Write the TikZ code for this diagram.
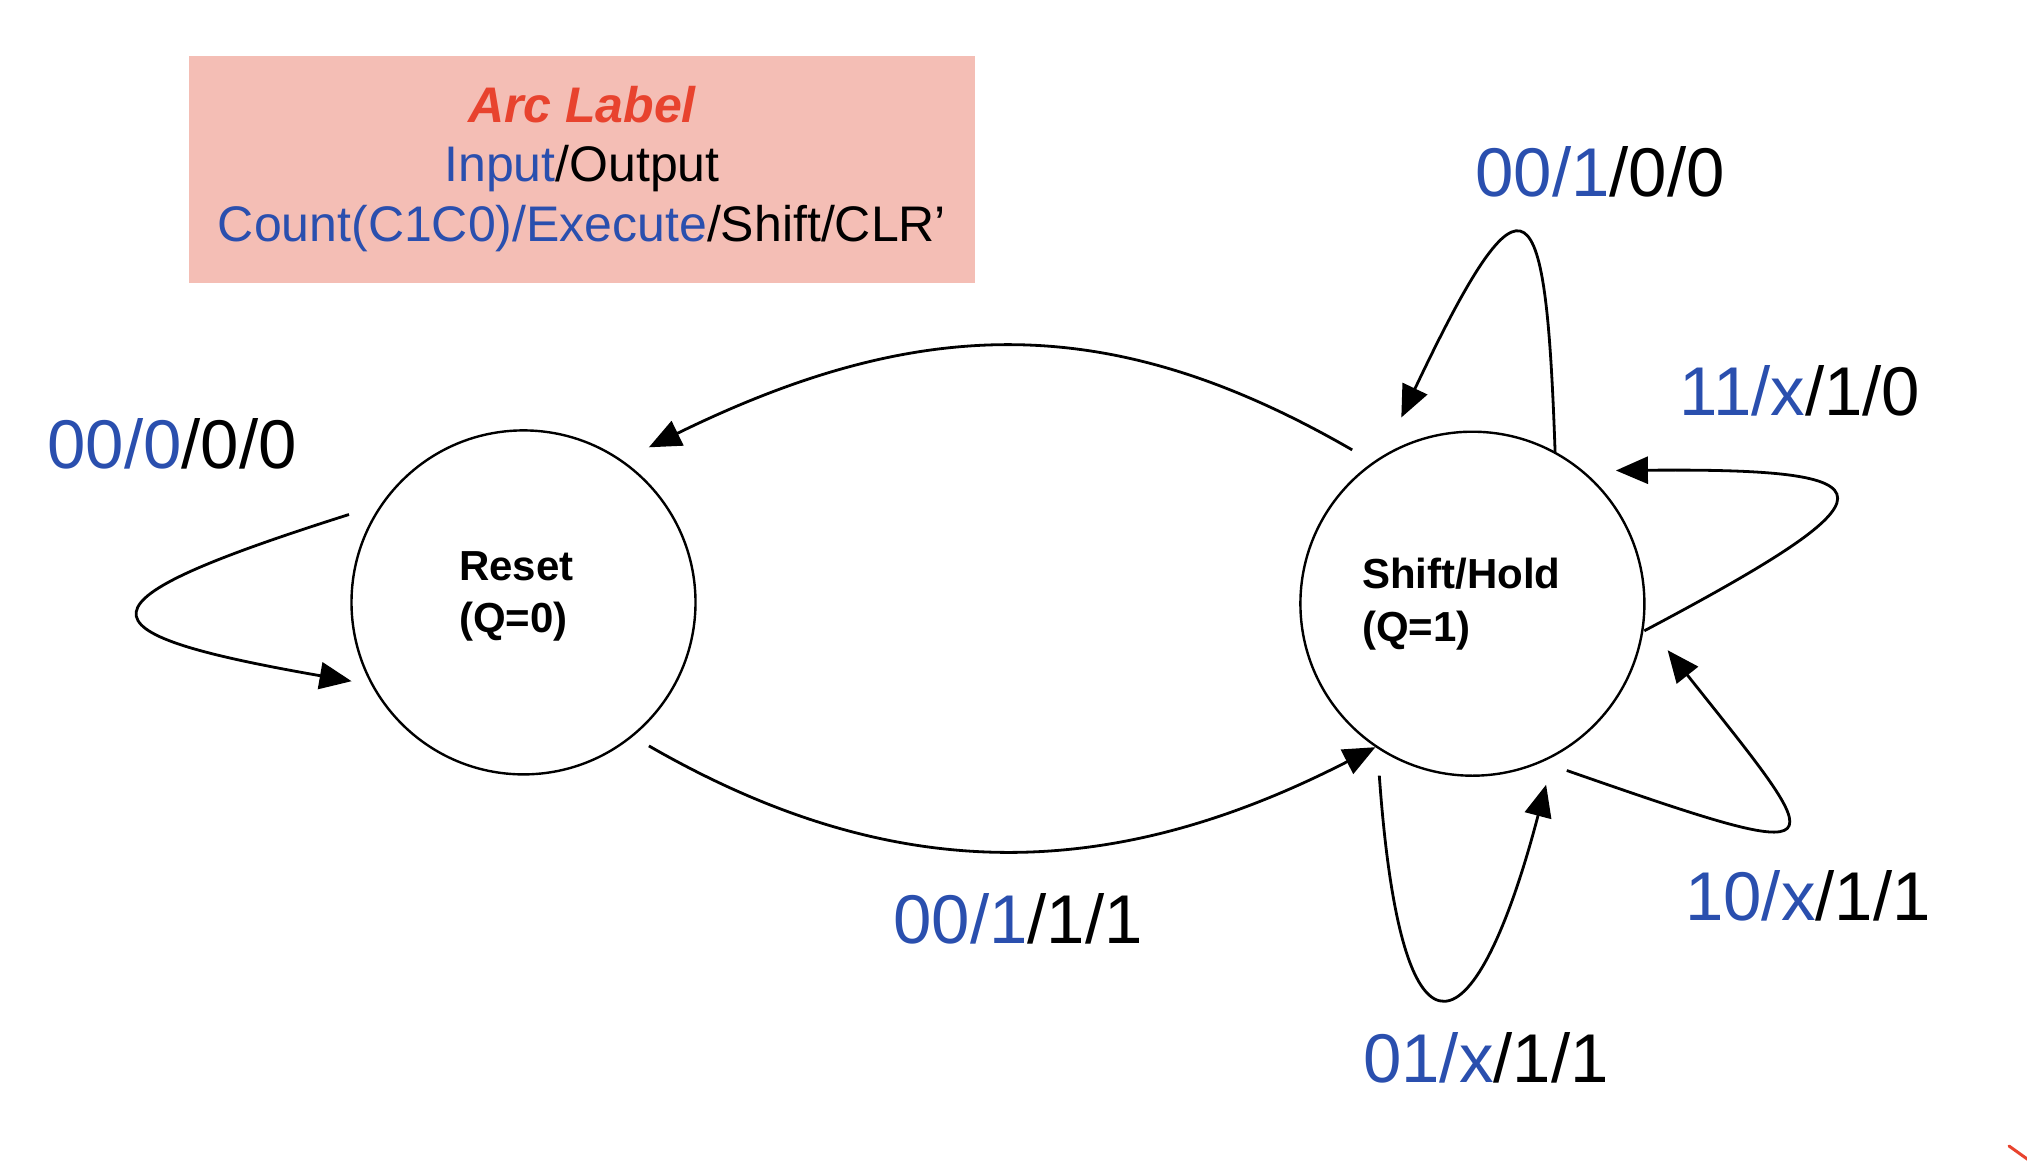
\documentclass[tikz,border=0pt]{standalone}
\usepackage{fontspec}
\setmainfont{Liberation Sans}
\usetikzlibrary{arrows.meta}
\definecolor{inblue}{HTML}{2A4FAE}
\definecolor{boxpink}{HTML}{F4BEB5}
\definecolor{arcred}{HTML}{E8432E}
\tikzset{
  state/.style={circle, draw, line width=2.4pt, minimum size=344pt, inner sep=0pt},
  arc/.style={line width=2.8pt, -{Triangle[length=32pt,width=27pt]}},
  lbl/.style={anchor=base, inner sep=0pt, font=\fontsize{69}{80}\selectfont},
  stxt/.style={anchor=base west, inner sep=0pt, font=\bfseries\fontsize{42}{50}\selectfont},
  boxtxt/.style={anchor=base, inner sep=0pt, font=\fontsize{50}{60}\selectfont},
}
\begin{document}
\begin{tikzpicture}[x=1pt,y=-1pt]
\useasboundingbox (0,0) rectangle (2027,1161);
% legend box
\node[fill=boxpink, minimum width=786pt, minimum height=227pt, inner sep=0pt] (box) at (582,169.5) {};
\node[boxtxt, text=arcred, font=\bfseries\itshape\fontsize{50}{60}\selectfont] (t1) at (582,123) {Arc Label};
\node[boxtxt] (t2) at (582,182) {\textcolor{inblue}{Input}/Output};
\node[boxtxt] (t3) at (582,242) {\textcolor{inblue}{Count(C1C0)/Execute}/Shift/CLR’};
% states
\node[state] (R) at (523.5,602.4) {};
\node[state] (S) at (1472.4,603.7) {};
\node[stxt] (rt1) at (459,580) {Reset};
\node[stxt] (rt2) at (459,632) {(Q=0)};
\node[stxt] (st1) at (1362,588) {Shift/Hold};
\node[stxt] (st2) at (1362,641) {(Q=1)};
% transitions
\draw[arc] ([shift={(-120.2,-153.8)}]S.center) .. controls (1114.3,312.4) and (924.3,312.4) .. ([shift={(125.4,-155.1)}]R.center);
\draw[arc] ([shift={(125.4,143.5)}]R.center) .. controls (890.7,885.2) and (1106.6,885.2) .. ([shift={(-97,143.5)}]S.center);
\draw[arc] ([shift={(-174.5,-87.9)}]R.center) .. controls (70,603) and (70,632) .. ([shift={(-171.9,78.8)}]R.center);
\draw[arc] ([shift={(82.7,-151.3)}]S.center) .. controls (1546,190) and (1528,150) .. ([shift={(-71.1,-186.2)}]S.center);
\draw[arc] ([shift={(171.9,27.1)}]S.center) .. controls (1902.9,493.8) and (1900.3,468) .. ([shift={(143.5,-133.2)}]S.center);
\draw[arc] ([shift={(94.4,166.8)}]S.center) .. controls (1848.6,868.7) and (1833.1,858.4) .. ([shift={(195.2,46.5)}]S.center);
\draw[arc] ([shift={(-93.1,171.9)}]S.center) .. controls (1402,1095) and (1478,1045) .. ([shift={(73.7,181)}]S.center);
% labels
\node[lbl] (l1) at (172,468) {\textcolor{inblue}{00/0}/0/0};
\node[lbl] (l2) at (1600,197) {\textcolor{inblue}{00/1}/0/0};
\node[lbl] (l3) at (1800,415) {\textcolor{inblue}{11/x}/1/0};
\node[lbl] (l4) at (1808,920) {\textcolor{inblue}{10/x}/1/1};
\node[lbl] (l5) at (1486,1082) {\textcolor{inblue}{01/x}/1/1};
\node[lbl] (l6) at (1018,943) {\textcolor{inblue}{00/1}/1/1};
% corner mark
\draw[arcred, line width=3pt, line cap=round] (2009,1146) -- (2030,1161);
\end{tikzpicture}
\end{document}
